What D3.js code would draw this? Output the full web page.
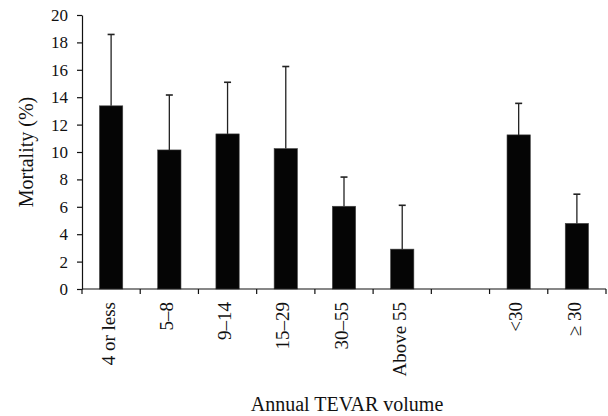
<!DOCTYPE html>
<html>
<head>
<meta charset="utf-8">
<script src="https://cdn.jsdelivr.net/npm/d3@7"></script>
<style>
  body { margin: 0; background: #fff; }
</style>
</head>
<body>
<div id="chart"></div>
<script>
const width = 608;
const height = 416;
const margin = { top: 15, right: 2, bottom: 127, left: 82 };
const serif = '"Liberation Serif", "Times New Roman", serif';

// categories (the blank one is the gap between the two groups)
const categories = ["4 or less", "5\u20138", "9\u201314", "15\u201329", "30\u201355", "Above 55", "", "<30", "\u2265 30"];
// mortality (%) and upper end of the error bar
const mortality = [13.37, 10.15, 11.32, 10.25, 6.04, 2.91, null, 11.25, 4.79];
const errorTop = [18.58, 14.16, 15.09, 16.24, 8.17, 6.11, null, 13.55, 6.92];
const yTicks = [0, 2, 4, 6, 8, 10, 12, 14, 16, 18, 20];

const data = categories.map((c, i) => ({ name: c, value: mortality[i], err: errorTop[i], i: i }));

const svg = d3
  .select("#chart")
  .append("svg")
  .attr("width", width)
  .attr("height", height)
  .attr("font-family", serif);

const innerH = height - margin.top - margin.bottom;

const x = d3
  .scaleBand()
  .domain(d3.range(categories.length))
  .range([margin.left, width - margin.right])
  .paddingInner(0.6)
  .paddingOuter(0.3);

const y = d3
  .scaleLinear()
  .domain([0, 20])
  .range([margin.top + innerH, margin.top]);

const step = x.step();
const x0 = x.range()[0];

// bars
svg
  .selectAll(".bar")
  .data(data.filter(d => d.value != null))
  .enter()
  .append("rect")
  .attr("class", "bar")
  .attr("x", d => x(d.i))
  .attr("width", x.bandwidth())
  .attr("y", d => y(d.value))
  .attr("height", d => y(0) - y(d.value))
  .attr("fill", "#050505")
  .attr("stroke", "#444")
  .attr("stroke-width", 0.6);

// error bars (upper only)
const errG = svg
  .selectAll(".err")
  .data(data.filter(d => d.err != null))
  .enter()
  .append("g")
  .attr("class", "err");

errG
  .append("line")
  .attr("x1", d => x(d.i) + x.bandwidth() / 2)
  .attr("x2", d => x(d.i) + x.bandwidth() / 2)
  .attr("y1", d => y(d.value))
  .attr("y2", d => y(d.err))
  .attr("stroke", "#222")
  .attr("stroke-width", 1.3);

errG
  .append("line")
  .attr("x1", d => x(d.i) + x.bandwidth() / 2 - 3.5)
  .attr("x2", d => x(d.i) + x.bandwidth() / 2 + 3.5)
  .attr("y1", d => y(d.err))
  .attr("y2", d => y(d.err))
  .attr("stroke", "#222")
  .attr("stroke-width", 1.6);

// y axis
const yAxis = svg
  .append("g")
  .attr("transform", `translate(${margin.left},0)`)
  .call(d3.axisLeft(y).tickValues(yTicks).tickSize(5).tickPadding(9).tickSizeOuter(0));
yAxis.attr("font-family", serif).attr("font-size", 17);
yAxis.select(".domain").attr("stroke", "#111").attr("stroke-width", 1.2);
yAxis.selectAll(".tick line").attr("stroke", "#111").attr("stroke-width", 1.2);
yAxis.selectAll(".tick text").attr("fill", "#111");

// x axis line with ticks at slot boundaries
svg
  .append("line")
  .attr("x1", x0)
  .attr("x2", x.range()[1])
  .attr("y1", y(0))
  .attr("y2", y(0))
  .attr("stroke", "#111")
  .attr("stroke-width", 1.2);

svg
  .selectAll(".xtick")
  .data(d3.range(categories.length + 1))
  .enter()
  .append("line")
  .attr("class", "xtick")
  .attr("x1", i => x0 + i * step)
  .attr("x2", i => x0 + i * step)
  .attr("y1", y(0))
  .attr("y2", y(0) + 5)
  .attr("stroke", "#111")
  .attr("stroke-width", 1.2);

// rotated category labels
svg
  .selectAll(".xlabel")
  .data(data)
  .enter()
  .append("text")
  .attr("class", "xlabel")
  .attr("transform", d => `translate(${x(d.i) + x.bandwidth() / 2 - 3},302) rotate(-90)`)
  .attr("text-anchor", "end")
  .attr("dy", "0.35em")
  .attr("fill", "#111")
  .style("font-size", "19px")
  .text(d => d.name);

// axis titles
svg
  .append("text")
  .attr("transform", `translate(33,152) rotate(-90)`)
  .attr("text-anchor", "middle")
  .attr("fill", "#111")
  .style("font-size", "20px")
  .text("Mortality (%)");

svg
  .append("text")
  .attr("x", 347)
  .attr("y", 411)
  .attr("text-anchor", "middle")
  .attr("fill", "#111")
  .style("font-size", "20px")
  .text("Annual TEVAR volume");
</script>
</body>
</html>
